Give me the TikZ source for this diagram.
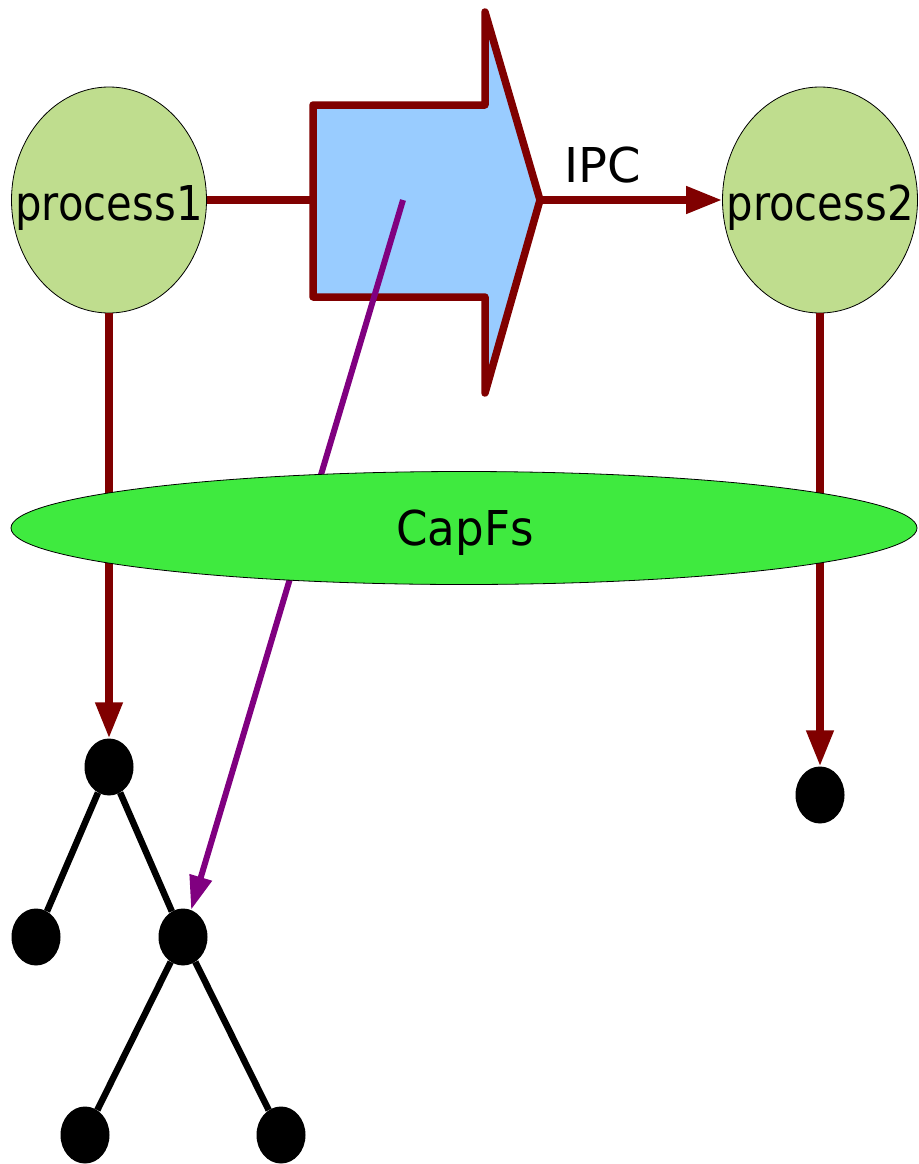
\documentclass[tikz,border=0pt]{standalone}
\usepackage{fontspec}
\usepackage{graphicx}
\setmainfont{DejaVu Sans}
\usetikzlibrary{shapes.geometric,arrows.meta}
\definecolor{darkred}{HTML}{800000}
\definecolor{procgreen}{HTML}{BFDD8E}
\definecolor{fsgreen}{HTML}{3FEA3F}
\definecolor{pipeblue}{HTML}{99CCFF}
\definecolor{ptrpurple}{HTML}{800080}
\newcommand{\narrowtext}[2]{\scalebox{#1}[1]{#2}}
\tikzset{
  labeltext/.style={font=\fontsize{48}{54}\selectfont, inner sep=0pt, anchor=base},
  procell/.style={ellipse, draw=black, line width=0.8pt, fill=procgreen,
    minimum width=195pt, minimum height=226pt, inner sep=0pt},
  fsell/.style={ellipse, draw=black, line width=0.8pt, fill=fsgreen,
    minimum width=906pt, minimum height=113pt, inner sep=0pt},
  dot/.style={ellipse, fill=black, minimum width=49pt, minimum height=57pt, inner sep=0pt},
  redline/.style={draw=darkred, line width=7.5pt},
  redarrow/.style={redline, -{Triangle[length=36pt,width=26pt]}},
  purplearrow/.style={draw=ptrpurple, line width=6pt, -{Triangle[length=34pt,width=22pt]}},
  treeedge/.style={draw=black, line width=6.5pt},
}
\begin{document}
\begin{tikzpicture}[x=1pt,y=-1pt]
\useasboundingbox (0,0) rectangle (918,1164);

% processes
\node[procell] (p1) at (109,200) {};
\node[procell] (p2) at (820,200) {};
\node[labeltext] (p1text) at (109,220) {\narrowtext{0.87}{process1}};
\node[labeltext] (p2text) at (820,220) {\narrowtext{0.87}{process2}};

% IPC block arrow
\coordinate (pipeL) at (313,200);
\coordinate (pipeTip) at (540,200);
\coordinate (pipeMid) at (403,200);
\draw[draw=darkred, line width=7.5pt, fill=pipeblue, line join=round, line cap=round]
  (313,105) -- (485,105) -- (485,12) -- (pipeTip) -- (485,393) -- (485,297) -- (313,297) -- cycle;
\draw[redline] (p1.east) -- (pipeL);
\draw[redarrow] (pipeTip) -- (p2.west);
\node[labeltext] (ipc) at (603,182) {IPC};

% trees of nodes
\node[dot] (root) at (109,767) {};
\node[dot] (lc) at (36,937) {};
\node[dot] (rc) at (183,937) {};
\node[dot] (g1) at (85,1135) {};
\node[dot] (g2) at (281,1135) {};
\node[dot] (solo) at (820,795) {};
\draw[treeedge] (root) -- (lc);
\draw[treeedge] (root) -- (rc);
\draw[treeedge] (rc) -- (g1);
\draw[treeedge] (rc) -- (g2);

% references down to the file system
\draw[redarrow] (p1.south) -- (root.north);
\draw[redarrow] (p2.south) -- (solo.north);
\draw[purplearrow] (pipeMid) -- (rc);

% file system layer
\node[fsell] (capfs) at (464,528) {};
\node[labeltext] (capfstext) at (465,545) {\narrowtext{0.94}{CapFs}};
\end{tikzpicture}
\end{document}
